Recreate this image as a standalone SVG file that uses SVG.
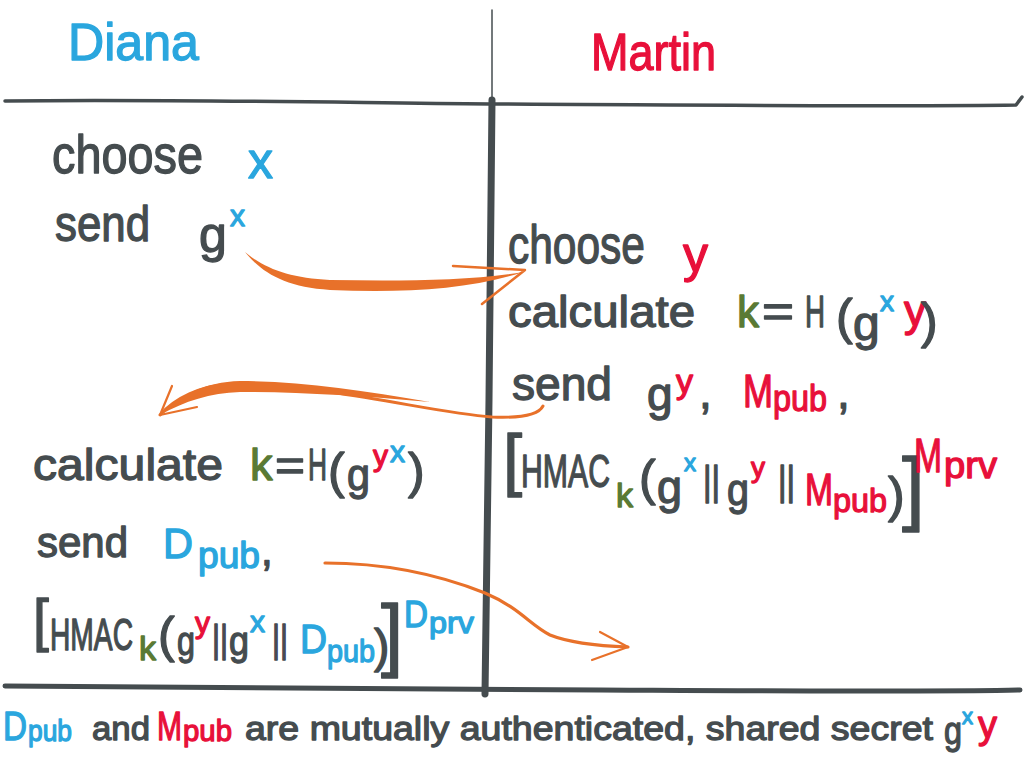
<svg xmlns="http://www.w3.org/2000/svg" width="1024" height="768" viewBox="0 0 1024 768">
<style>
.t{font-family:"Liberation Sans","DejaVu Sans",sans-serif;fill:#454c4f;stroke:#454c4f;stroke-width:1.3;stroke-linejoin:round}
.b{fill:#2aa6de;stroke:#2aa6de}
.r{fill:#e8103a;stroke:#e8103a}
.g{fill:#5a7a34;stroke:#5a7a34}
.ln{fill:none;stroke:#454c4f;stroke-linecap:round;stroke-linejoin:round}
.ar{fill:none;stroke:#e8712a;stroke-linecap:round;stroke-linejoin:round}
.af{fill:#e8712a;stroke:none}
</style>
<rect width="1024" height="768" fill="#ffffff"/>
<g id="frame">
<path class="ln" d="M492,10 L492,100" stroke-width="1.5"/>
<path class="ln" d="M5,101 C150,99 300,102 490,104 C700,105 900,107 1016,105 L1022,97" stroke-width="3.5"/>
<path class="ln" d="M492,100 L489,400 L485,694" stroke-width="7"/>
<path class="ln" d="M5,686 C200,686 400,689 600,690 C800,691 950,692 1020,690" stroke-width="5"/>
</g>
<g id="diana-header"><text class="t b" x="68" y="60" font-size="52" textLength="131" lengthAdjust="spacingAndGlyphs">Diana</text></g>
<g id="martin-header"><text class="t r" x="591" y="70" font-size="52" textLength="125" lengthAdjust="spacingAndGlyphs">Martin</text></g>
<g id="diana-step1">
<text class="t" font-size="54"><tspan x="52" y="173" textLength="151" lengthAdjust="spacingAndGlyphs">choose</tspan><tspan class="b" x="248" y="178" font-size="50">x</tspan></text>
<text class="t" font-size="50"><tspan x="55" y="241" textLength="95" lengthAdjust="spacingAndGlyphs">send</tspan><tspan x="199" y="252">g</tspan><tspan class="b" x="230" y="226" font-size="30">x</tspan></text>
</g>
<g id="martin-step">
<text class="t" font-size="54"><tspan x="508" y="263" textLength="137" lengthAdjust="spacingAndGlyphs">choose</tspan><tspan class="r" x="683" y="272" font-size="50">y</tspan></text>
<text class="t" font-size="44"><tspan x="508" y="327" textLength="187" lengthAdjust="spacingAndGlyphs">calculate</tspan><tspan class="g" x="737" y="327">k</tspan><tspan x="762" y="327" textLength="32" lengthAdjust="spacingAndGlyphs">=</tspan><tspan x="805" y="327" textLength="20" lengthAdjust="spacingAndGlyphs">H</tspan><tspan x="836" y="334" font-size="50">(</tspan><tspan x="853" y="340" font-size="48">g</tspan><tspan class="b" x="880" y="311" font-size="28">x</tspan><tspan class="r" x="904" y="326">y</tspan><tspan x="921" y="338" font-size="50">)</tspan></text>
<text class="t" font-size="46"><tspan x="512" y="400" textLength="100" lengthAdjust="spacingAndGlyphs">send</tspan><tspan x="647" y="410">g</tspan><tspan class="r" x="676" y="393" font-size="34">y</tspan><tspan x="699" y="408">,</tspan><tspan class="r" x="743" y="407" textLength="30" lengthAdjust="spacingAndGlyphs">M</tspan><tspan class="r" x="773" y="411" font-size="36" textLength="54" lengthAdjust="spacingAndGlyphs">pub</tspan><tspan x="837" y="408">,</tspan></text>
<text class="t" font-size="46"><tspan x="503" y="483" font-size="69">[</tspan><tspan x="521" y="487" textLength="89" lengthAdjust="spacingAndGlyphs">HMAC</tspan><tspan class="g" x="616" y="507" font-size="34">k</tspan><tspan x="639" y="495" font-size="50">(</tspan><tspan x="657" y="503" textLength="25" lengthAdjust="spacingAndGlyphs">g</tspan><tspan class="b" x="684" y="471" font-size="24">x</tspan><tspan x="703" y="495" font-size="40" textLength="17" lengthAdjust="spacingAndGlyphs">||</tspan><tspan x="727" y="505" font-size="44" textLength="22" lengthAdjust="spacingAndGlyphs">g</tspan><tspan class="r" x="751" y="477" font-size="28">y</tspan><tspan x="778" y="495" font-size="40" textLength="17" lengthAdjust="spacingAndGlyphs">||</tspan><tspan class="r" x="805" y="505" font-size="44" textLength="28" lengthAdjust="spacingAndGlyphs">M</tspan><tspan class="r" x="833" y="512" font-size="34" textLength="54" lengthAdjust="spacingAndGlyphs">pub</tspan><tspan x="888" y="512" font-size="50">)</tspan><tspan x="902" y="515" font-size="82">]</tspan><tspan class="r" x="914" y="472" font-size="48" textLength="28" lengthAdjust="spacingAndGlyphs">M</tspan><tspan class="r" x="944" y="478" font-size="36" textLength="53" lengthAdjust="spacingAndGlyphs">prv</tspan></text>
</g>
<g id="diana-step2">
<text class="t" font-size="45"><tspan x="33" y="480" textLength="190" lengthAdjust="spacingAndGlyphs">calculate</tspan><tspan class="g" x="250" y="480">k</tspan><tspan x="275" y="480" textLength="30" lengthAdjust="spacingAndGlyphs">=</tspan><tspan x="308" y="480" textLength="19" lengthAdjust="spacingAndGlyphs">H</tspan><tspan x="328" y="488" font-size="50">(</tspan><tspan x="347" y="490" font-size="44" textLength="23" lengthAdjust="spacingAndGlyphs">g</tspan><tspan class="r" x="373" y="466" font-size="30">y</tspan><tspan class="b" x="390" y="462" font-size="30">x</tspan><tspan x="408" y="488" font-size="50">)</tspan></text>
<text class="t" font-size="42"><tspan x="37" y="557" textLength="91" lengthAdjust="spacingAndGlyphs">send</tspan><tspan class="b" x="163" y="558" textLength="30" lengthAdjust="spacingAndGlyphs">D</tspan><tspan class="b" x="198" y="568" font-size="36" textLength="62" lengthAdjust="spacingAndGlyphs">pub</tspan><tspan x="261" y="565">,</tspan></text>
<text class="t" font-size="44"><tspan x="33" y="640" font-size="57">[</tspan><tspan x="50" y="650" textLength="83" lengthAdjust="spacingAndGlyphs">HMAC</tspan><tspan class="g" x="139" y="660" font-size="34">k</tspan><tspan x="158" y="652" font-size="50">(</tspan><tspan x="177" y="655" font-size="40" textLength="18" lengthAdjust="spacingAndGlyphs">g</tspan><tspan class="r" x="195" y="633" font-size="30">y</tspan><tspan x="212" y="652" font-size="38" textLength="16" lengthAdjust="spacingAndGlyphs">||</tspan><tspan x="229" y="655" font-size="40" textLength="20" lengthAdjust="spacingAndGlyphs">g</tspan><tspan class="b" x="250" y="632" font-size="30">x</tspan><tspan x="272" y="652" font-size="38" textLength="16" lengthAdjust="spacingAndGlyphs">||</tspan><tspan class="b" x="300" y="653" font-size="40" textLength="27" lengthAdjust="spacingAndGlyphs">D</tspan><tspan class="b" x="327" y="662" font-size="32" textLength="48" lengthAdjust="spacingAndGlyphs">pub</tspan><tspan x="374" y="662" font-size="46">)</tspan><tspan x="381" y="661" font-size="80">]</tspan><tspan class="b" x="404" y="627" font-size="36" textLength="24" lengthAdjust="spacingAndGlyphs">D</tspan><tspan class="b" x="429" y="633" font-size="30" textLength="45" lengthAdjust="spacingAndGlyphs">prv</tspan></text>
</g>
<g id="summary">
<text class="t" font-size="34"><tspan class="b" x="3" y="740" font-size="40" textLength="24" lengthAdjust="spacingAndGlyphs">D</tspan><tspan class="b" x="28" y="741" font-size="30" textLength="44" lengthAdjust="spacingAndGlyphs">pub</tspan><tspan x="92" y="740" textLength="58" lengthAdjust="spacingAndGlyphs">and</tspan><tspan class="r" x="157" y="740" font-size="40" textLength="25" lengthAdjust="spacingAndGlyphs">M</tspan><tspan class="r" x="183" y="741" font-size="30" textLength="49" lengthAdjust="spacingAndGlyphs">pub</tspan><tspan x="245" y="740" textLength="688" lengthAdjust="spacingAndGlyphs">are mutually authenticated, shared secret</tspan><tspan x="944" y="744" font-size="38" textLength="18" lengthAdjust="spacingAndGlyphs">g</tspan><tspan class="b" x="962" y="724" font-size="22">x</tspan><tspan class="r" x="978" y="738" font-size="38">y</tspan></text>
</g>
<g id="connectors">
<path class="af" d="M245,252 C262,273 285,287 330,290 C400,293 470,290 523,272 C470,281 400,281 330,280 C290,278 265,269 245,252 Z"/>
<path class="ar" d="M453,266 L525,270 L482,304" stroke-width="2.5"/>
<path class="ar" d="M543,406 C538,416 515,418 492,417 C450,414 400,402 330,392 C280,386 250,383 230,384 C200,386 175,398 160,415" stroke-width="3"/>
<path class="af" d="M430,402 C360,390 300,381 240,381 C205,382 180,395 160,415 C185,401 210,393 240,392 C300,392 360,396 430,402 Z"/>
<path class="ar" d="M172,386 L160,415 L197,407" stroke-width="2.2"/>
<path class="ar" d="M325,563 C390,563 440,575 485,593 C520,608 530,625 550,635 C570,643 600,646 628,647" stroke-width="3.2"/>
<path class="ar" d="M600,632 L628,647 L592,660" stroke-width="2.2"/>
</g>
</svg>
